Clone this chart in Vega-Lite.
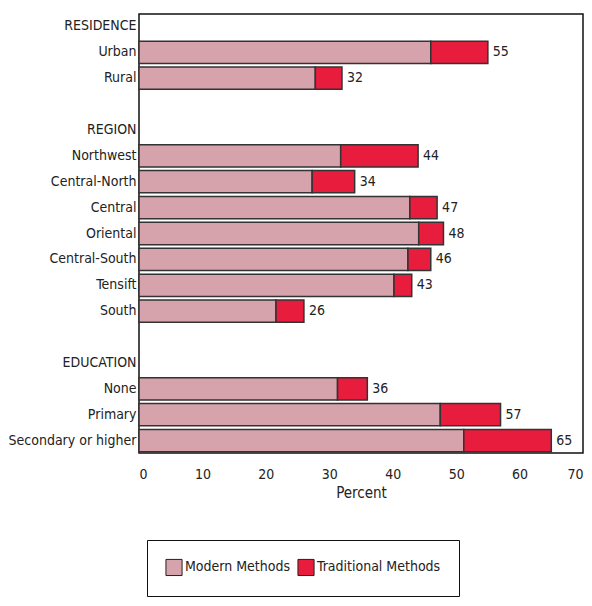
{
  "$schema": "https://vega.github.io/schema/vega-lite/v6.json",
  "width": 444,
  "height": 439,
  "autosize": {"type": "none"},
  "padding": {"left": 139, "top": 14, "right": 9, "bottom": 153},
  "config": {
    "font": "DejaVu Sans Condensed, Liberation Sans, sans-serif",
    "view": {"stroke": "#111", "strokeWidth": 1.5}
  },
  "datasets": {
    "segments": [
      {"category": "Urban", "method": "Modern Methods", "order": 1, "value": 46.0},
      {"category": "Urban", "method": "Traditional Methods", "order": 2, "value": 9.0},
      {"category": "Rural", "method": "Modern Methods", "order": 1, "value": 27.8},
      {"category": "Rural", "method": "Traditional Methods", "order": 2, "value": 4.2},
      {"category": "Northwest", "method": "Modern Methods", "order": 1, "value": 31.8},
      {"category": "Northwest", "method": "Traditional Methods", "order": 2, "value": 12.2},
      {"category": "Central-North", "method": "Modern Methods", "order": 1, "value": 27.3},
      {"category": "Central-North", "method": "Traditional Methods", "order": 2, "value": 6.7},
      {"category": "Central", "method": "Modern Methods", "order": 1, "value": 42.7},
      {"category": "Central", "method": "Traditional Methods", "order": 2, "value": 4.3},
      {"category": "Oriental", "method": "Modern Methods", "order": 1, "value": 44.1},
      {"category": "Oriental", "method": "Traditional Methods", "order": 2, "value": 3.9},
      {"category": "Central-South", "method": "Modern Methods", "order": 1, "value": 42.4},
      {"category": "Central-South", "method": "Traditional Methods", "order": 2, "value": 3.6},
      {"category": "Tensift", "method": "Modern Methods", "order": 1, "value": 40.2},
      {"category": "Tensift", "method": "Traditional Methods", "order": 2, "value": 2.8},
      {"category": "South", "method": "Modern Methods", "order": 1, "value": 21.6},
      {"category": "South", "method": "Traditional Methods", "order": 2, "value": 4.4},
      {"category": "None", "method": "Modern Methods", "order": 1, "value": 31.3},
      {"category": "None", "method": "Traditional Methods", "order": 2, "value": 4.7},
      {"category": "Primary", "method": "Modern Methods", "order": 1, "value": 47.5},
      {"category": "Primary", "method": "Traditional Methods", "order": 2, "value": 9.5},
      {"category": "Secondary or higher", "method": "Modern Methods", "order": 1, "value": 51.2},
      {"category": "Secondary or higher", "method": "Traditional Methods", "order": 2, "value": 13.8}
    ],
    "totals": [
      {"category": "Urban", "total": 55},
      {"category": "Rural", "total": 32},
      {"category": "Northwest", "total": 44},
      {"category": "Central-North", "total": 34},
      {"category": "Central", "total": 47},
      {"category": "Oriental", "total": 48},
      {"category": "Central-South", "total": 46},
      {"category": "Tensift", "total": 43},
      {"category": "South", "total": 26},
      {"category": "None", "total": 36},
      {"category": "Primary", "total": 57},
      {"category": "Secondary or higher", "total": 65}
    ]
  },
  "layer": [
    {
      "data": {"name": "segments"},
      "mark": {"type": "bar", "stroke": "#333", "strokeWidth": 1.5},
      "encoding": {
        "y": {
          "field": "category",
          "type": "nominal",
          "scale": {
            "domain": ["RESIDENCE", "Urban", "Rural", " ", "REGION", "Northwest", "Central-North", "Central", "Oriental", "Central-South", "Tensift", "South", "  ", "EDUCATION", "None", "Primary", "Secondary or higher"],
            "paddingInner": 0.14,
            "paddingOuter": 0.05
          },
          "axis": {"title": null, "ticks": false, "domain": false, "labelFontSize": 14, "labelColor": "#222", "labelPadding": 3}
        },
        "x": {
          "field": "value",
          "type": "quantitative",
          "stack": "zero",
          "scale": {"domain": [0, 70], "nice": false},
          "axis": {"values": [0, 10, 20, 30, 40, 50, 60, 70], "title": "Percent", "grid": false, "ticks": false, "domain": false, "labelFontSize": 14, "labelColor": "#222", "labelPadding": 14, "titleFontSize": 15, "titleFontWeight": "normal", "titleColor": "#222", "titlePadding": 4}
        },
        "order": {"field": "order", "type": "quantitative"},
        "color": {
          "field": "method",
          "type": "nominal",
          "scale": {"domain": ["Modern Methods", "Traditional Methods"], "range": ["#d6a2ac", "#e81c3c"]},
          "legend": {
            "title": null,
            "orient": "none",
            "legendX": 8,
            "legendY": 526,
            "direction": "horizontal",
            "strokeColor": "#111",
            "padding": 18,
            "symbolType": "square",
            "symbolSize": 260,
            "symbolStrokeColor": "#222",
            "symbolStrokeWidth": 1,
            "labelFontSize": 14,
            "labelColor": "#222",
            "labelOffset": 2,
            "columnPadding": 4
          }
        }
      }
    },
    {
      "data": {"name": "totals"},
      "mark": {"type": "text", "align": "left", "baseline": "middle", "dx": 5, "fontSize": 14, "color": "#222"},
      "encoding": {
        "y": {"field": "category", "type": "nominal"},
        "x": {"field": "total", "type": "quantitative"},
        "text": {"field": "total", "type": "quantitative"}
      }
    }
  ]
}
